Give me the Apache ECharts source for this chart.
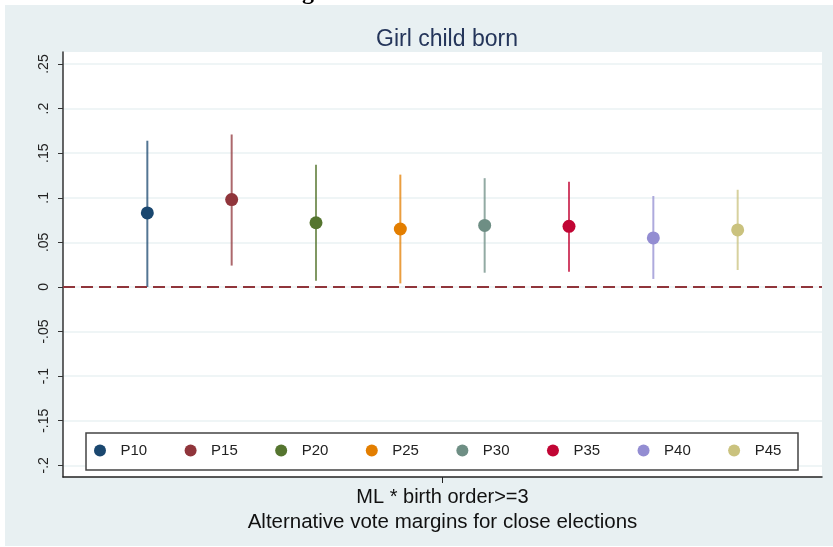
<!DOCTYPE html>
<html>
<head>
<meta charset="utf-8">
<script src="https://cdn.jsdelivr.net/npm/echarts@6/dist/echarts.min.js"></script>
<style>
html,body{margin:0;padding:0;background:#fff;}
#chart{width:833px;height:547px;}
</style>
</head>
<body>
<div id="chart"></div>
<script>
// ---- data ----
var groups = ['P10', 'P15', 'P20', 'P25', 'P30', 'P35', 'P40', 'P45'];
var positions = [1, 2, 3, 4, 5, 6, 7, 8];
var estimates = [0.083, 0.098, 0.072, 0.065, 0.069, 0.068, 0.055, 0.064];
var lower = [0.000, 0.024, 0.007, 0.004, 0.016, 0.017, 0.009, 0.019];
var upper = [0.164, 0.171, 0.137, 0.126, 0.122, 0.118, 0.102, 0.109];
var colors = ['#1a476f', '#90353b', '#55752f', '#e37e00', '#6e8e84', '#c10534', '#938dd2', '#cac27e'];
var yTicks = [-0.2, -0.15, -0.1, -0.05, 0, 0.05, 0.1, 0.15, 0.2, 0.25];
var xTickValue = 4.5;
var xTickLabel = 'ML * birth order>=3';
var xAxisTitle = 'Alternative vote margins for close elections';
var chartTitle = 'Girl child born';

function stataFmt(v) {
  var r = Math.round(v * 1000) / 1000;
  if (r === 0) return '0';
  var s = String(Math.abs(r)).replace(/^0/, '');
  return (r < 0 ? '-' : '') + s;
}

var chart = echarts.init(document.getElementById('chart'), null, {renderer: 'canvas'});

var series = [];
series.push({
  name: 'CI',
  type: 'custom',
  z: 2,
  silent: true,
  renderItem: function (params, api) {
    var x = api.value(0);
    var p1 = api.coord([x, api.value(1)]);
    var p2 = api.coord([x, api.value(2)]);
    return {
      type: 'line',
      shape: {x1: p1[0], y1: p1[1], x2: p2[0], y2: p2[1]},
      style: {stroke: colors[params.dataIndex], lineWidth: 2, opacity: 0.75}
    };
  },
  encode: {x: 0, y: [1, 2]},
  data: groups.map(function (g, i) { return [positions[i], lower[i], upper[i]]; }),
  markLine: {
    silent: true,
    symbol: 'none',
    label: {show: false},
    lineStyle: {color: '#90353b', width: 2, type: [12, 6]},
    data: [{yAxis: 0}]
  }
});
groups.forEach(function (g, i) {
  series.push({
    name: g,
    type: 'scatter',
    z: 3,
    symbol: 'circle',
    symbolSize: 13,
    itemStyle: {color: colors[i], opacity: 1},
    data: [[positions[i], estimates[i]]]
  });
});

var option = {
  backgroundColor: '#ffffff',
  animation: false,
  color: colors,
  title: {
    text: chartTitle,
    left: 442,
    textAlign: 'center',
    top: 23,
    textStyle: {fontFamily: 'Liberation Sans', fontWeight: 'normal', fontSize: 23, color: '#24355a'}
  },
  graphic: [
    {type: 'rect', z: -10, shape: {x: 5, y: 5, width: 828, height: 541}, style: {fill: '#e8f0f2'}},
    {type: 'text', z: 10, style: {x: 302, y: 5, text: 'g', verticalAlign: 'bottom', font: 'bold 24px "Liberation Serif"', fill: '#000'}},
    {type: 'rect', z: 3, shape: {x: 86, y: 433, width: 712, height: 37}, style: {fill: '#ffffff', stroke: '#444', lineWidth: 1.5}}
  ],
  legend: {
    data: groups,
    left: 94,
    top: 443,
    z: 4,
    padding: 0,
    itemWidth: 31,
    itemHeight: 12,
    itemGap: 37.4,
    icon: 'circle',
    selectedMode: false,
    textStyle: {fontFamily: 'Liberation Sans', fontSize: 15, color: '#222'}
  },
  grid: {
    left: 63, right: 11, top: 52, bottom: 70,
    show: true, backgroundColor: '#ffffff', borderWidth: 0
  },
  xAxis: {
    type: 'value',
    min: 0, max: 9,
    name: xAxisTitle,
    nameLocation: 'middle',
    nameGap: 34,
    nameTextStyle: {fontFamily: 'Liberation Sans', fontSize: 20.5, color: '#111'},
    axisLine: {show: true, onZero: false, lineStyle: {color: '#222', width: 1.5}},
    axisTick: {show: true, customValues: [xTickValue], length: 6, lineStyle: {color: '#222', width: 1}},
    axisLabel: {
      show: true, customValues: [xTickValue], margin: 10,
      formatter: function () { return xTickLabel; },
      fontFamily: 'Liberation Sans', fontSize: 20, color: '#111'
    },
    splitLine: {show: false}
  },
  yAxis: {
    type: 'value',
    min: -0.2131, max: 0.2635,
    axisLine: {show: true, onZero: false, lineStyle: {color: '#333', width: 1.5}},
    axisTick: {show: true, customValues: yTicks, length: 5, lineStyle: {color: '#333', width: 1}},
    axisLabel: {
      show: true, customValues: yTicks, rotate: 90, margin: 12,
      formatter: function (v) { return stataFmt(v); },
      fontFamily: 'Liberation Sans', fontSize: 14, color: '#222'
    },
    splitLine: {show: true, lineStyle: {color: '#eaf2f3', width: 1.5}}
  },
  series: series
};
chart.setOption(option);
</script>
</body>
</html>
